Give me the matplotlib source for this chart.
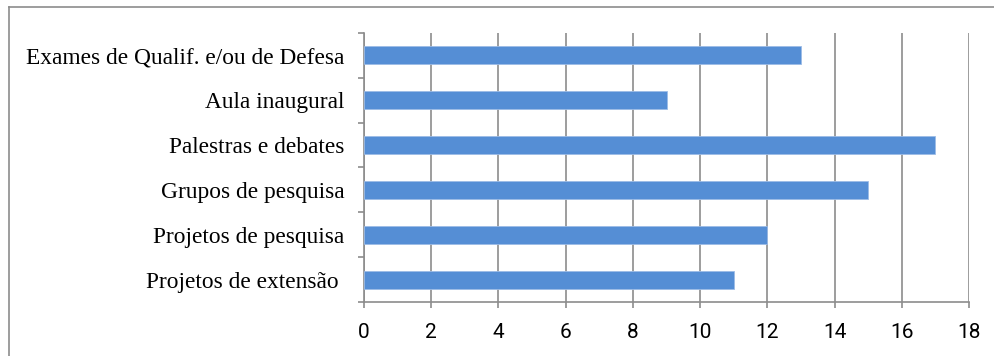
import numpy as np
import matplotlib.pyplot as plt
from matplotlib.lines import Line2D

categories = ["Exames de Qualif. e/ou de Defesa", "Aula inaugural", "Palestras e debates",
              "Grupos de pesquisa", "Projetos de pesquisa", "Projetos de extensão "]
values = [13, 9, 17, 15, 12, 11]
xticks = [0, 2, 4, 6, 8, 10, 12, 14, 16, 18]

fig = plt.figure(figsize=(9.95, 3.56), dpi=100)
ax = fig.add_axes([0.3658, 0.1517, 0.6081, 0.7556])

y = np.arange(len(categories))
ax.barh(y, values, height=0.4, color="#558ED5", edgecolor="#9DBCE6", linewidth=0.6, zorder=3)
ax.set_ylim(len(categories) - 0.5, -0.5)
ax.set_xlim(0, 18)

ax.set_xticks(xticks)
ax.set_xticklabels([str(t) for t in xticks], fontsize=15, family="Roboto")
ax.set_yticks(y)
ax.set_yticklabels(categories, fontsize=16.8, family="Liberation Serif")
ax.set_yticks(np.arange(len(categories) + 1) - 0.5, minor=True)
ax.tick_params(axis="y", which="major", length=0, pad=14)
ax.tick_params(axis="y", which="minor", length=4, color="#8c8c8c", width=1.2)
ax.tick_params(axis="x", length=4, color="#8c8c8c", width=1.2, pad=11)

ax.grid(axis="x", color="#8c8c8c", linewidth=1.2, zorder=0)
for s in ["top", "right"]:
    ax.spines[s].set_visible(False)
for s in ["left", "bottom"]:
    ax.spines[s].set_color("#8c8c8c")
    ax.spines[s].set_linewidth(1.2)

# outer chart border
fig.add_artist(Line2D([0.009, 1.0], [0.980, 0.980], transform=fig.transFigure, color="#8c8c8c", lw=1.2))
fig.add_artist(Line2D([0.009, 0.009], [0.0, 0.980], transform=fig.transFigure, color="#8c8c8c", lw=1.2))

fig.savefig("out.png", dpi=100)
